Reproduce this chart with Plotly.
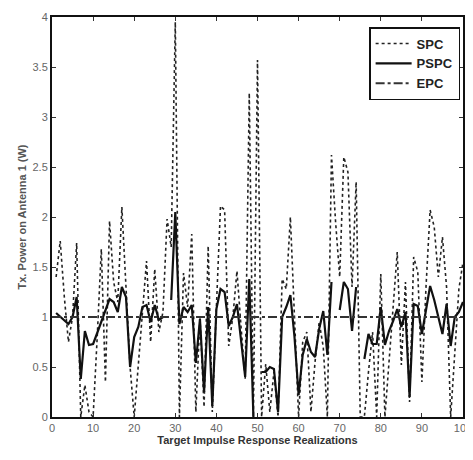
import plotly.graph_objects as go

nan = None
realization = list(range(1, 101))

spc = [1.4, 1.76, 1.2, 0.75, 1.0, 1.74, 0.0, 0.32, 0.05, 0.0,
       0.8, 1.68, 0.35, 1.96, 1.35, 1.15, 2.1, 1.25, 0.5, 0.0,
       0.55, 1.1, 1.56, 0.75, 1.48, 0.85, 1.05, 1.98, 1.7, 3.95,
       0.0, 1.44, 1.1, 1.83, 0.05, 1.0, 0.1, 1.71, 0.05, 1.1,
       2.11, 2.07, 0.71, 1.0, 1.46, 0.9, 0.38, 3.24, 0.0, 3.57,
       0.0, 0.53, 0.05, 0.45, 0.0, 1.38, 1.28, 2.0, 1.0, 0.0,
       0.75, 0.85, 0.05, 0.55, 0.95, 0.7, 0.0, 2.62, 1.95, 1.4,
       2.6, 2.45, 1.3, 2.35, 0.0, 0.0, 0.45, 0.85, 0.0, 1.43,
       0.0, 0.55, 1.0, 1.65, 0.52, 1.35, 0.15, 1.6, 1.45, 0.35,
       1.3, 2.07, 1.9, 1.4, 1.8, 1.3, 0.0, 0.7, 1.28, 1.55]

pspc = [1.04, 1.0, 0.97, 0.93, 1.0, 1.2, 0.38, 0.86, 0.72, 0.73,
        0.84, 0.95, 1.05, 1.18, 1.15, 1.05, 1.3, 1.2, 0.5, 0.8,
        0.9, 1.1, 1.12, 0.95, 1.12, 0.97, 1.0, nan, 1.17, 2.05,
        0.93, 1.1, 1.05, 1.12, 0.54, 0.98, 0.25, 1.1, 0.11, 1.08,
        1.28, 1.25, 0.91, 1.0, 1.13, 0.75, 0.4, 1.38, 0.0, nan,
        0.45, 0.45, 0.5, 0.48, 0.05, 1.0, 1.1, 1.22, 0.8, 0.22,
        0.62, 0.78, 0.65, 0.6, 0.88, 1.06, 0.62, 1.35, nan, 1.07,
        1.35, 1.28, 0.86, 1.3, nan, 0.58, 0.83, 0.73, 0.73, 1.1,
        0.72, 0.86, 0.96, 1.08, 0.9, 1.05, 0.2, 1.13, 1.11, 0.83,
        1.05, 1.31, 1.17, 1.0, 0.83, 1.13, 0.71, 1.0, 1.05, 1.15]

epc_x = [0, 100]
epc = [1.0, 1.0]

x_ticks = [0, 10, 20, 30, 40, 50, 60, 70, 80, 90, 100]
y_ticks = [0, 0.5, 1, 1.5, 2, 2.5, 3, 3.5, 4]
y_tick_labels = ["0", "0.5", "1", "1.5", "2", "2.5", "3", "3.5", "4"]

fig = go.Figure()
fig.add_trace(go.Scatter(x=realization, y=spc, mode="lines", name="SPC",
                         line=dict(color="#222222", width=1.6, dash="dot")))
fig.add_trace(go.Scatter(x=realization, y=pspc, mode="lines", name="PSPC",
                         line=dict(color="#111111", width=2.2)))
fig.add_trace(go.Scatter(x=epc_x, y=epc, mode="lines", name="EPC",
                         line=dict(color="#333333", width=1.8, dash="dashdot")))

axis_common = dict(showgrid=False, zeroline=False, showline=True, linecolor="#111111",
                   linewidth=2, mirror="ticks", ticks="inside", ticklen=4,
                   tickcolor="#333333", automargin=False,
                   tickfont=dict(family="Liberation Sans", size=11, color="#666666"))

fig.update_xaxes(range=[0, 100], tickvals=x_ticks,
                 title=dict(text="<b>Target Impulse Response Realizations</b>",
                            font=dict(family="Liberation Sans", size=11, color="#333333"), standoff=2),
                 **axis_common)
fig.update_yaxes(range=[0, 4], tickvals=y_ticks, ticktext=y_tick_labels,
                 title=dict(text="<b>Tx. Power on Antenna 1 (W)</b>",
                            font=dict(family="Liberation Sans", size=11, color="#555555"), standoff=4),
                 **axis_common)

fig.update_layout(
    width=473, height=460,
    margin=dict(l=44, r=18, t=9, b=51),
    paper_bgcolor="white", plot_bgcolor="white",
    showlegend=True,
    legend=dict(x=0.993, y=0.975, xanchor="right", yanchor="top",
                bgcolor="white", bordercolor="#111111", borderwidth=1.5,
                font=dict(family="Liberation Sans", size=13, color="#222222", weight="bold"),
                tracegroupgap=0, itemwidth=36),
)

fig.write_html("out.html")
